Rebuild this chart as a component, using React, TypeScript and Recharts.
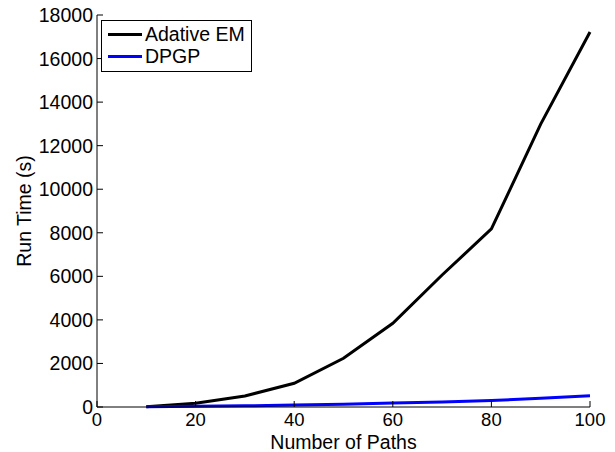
import { LineChart, Line, XAxis, YAxis, Legend } from "recharts";

const paths = [10, 20, 30, 40, 50, 60, 70, 80, 90, 100];
const emTimes = [10, 170, 505, 1090, 2240, 3845, 6060, 8175, 12990, 17220];
const dpgpTimes = [10, 30, 55, 90, 130, 180, 230, 300, 400, 520];
const xTicks = [0, 20, 40, 60, 80, 100];
const yTicks = [0, 2000, 4000, 6000, 8000, 10000, 12000, 14000, 16000, 18000];

const data = paths.map((p, i) => ({ paths: p, em: emTimes[i], dpgp: dpgpTimes[i] }));

const FONT = "'Liberation Sans', Arial, Helvetica, sans-serif";
const TICK_LEN = 6;

function BottomTick(props: any) {
  const { x, y, payload } = props;
  return (
    <g>
      <line x1={x} x2={x} y1={y} y2={y - TICK_LEN} stroke="#000" />
      <text x={x} y={y + 19} textAnchor="middle" fontSize={18.5} fontFamily={FONT} fill="#000">
        {payload.value}
      </text>
    </g>
  );
}

function TopTick(props: any) {
  const { x, y } = props;
  return <line x1={x} x2={x} y1={y} y2={y + TICK_LEN} stroke="#000" />;
}

function LeftTick(props: any) {
  const { x, y, payload } = props;
  return (
    <g>
      <line x1={x} x2={x + TICK_LEN} y1={y} y2={y} stroke="#000" />
      <text x={x - 4} y={y + 7} textAnchor="end" fontSize={19.5} fontFamily={FONT} fill="#000">
        {payload.value}
      </text>
    </g>
  );
}

function RightTick(props: any) {
  const { x, y } = props;
  return <line x1={x} x2={x - TICK_LEN} y1={y} y2={y} stroke="#000" />;
}

function LegendBox() {
  const items = [
    { name: "Adative EM", color: "#000000" },
    { name: "DPGP", color: "#0000ff" },
  ];
  return (
    <div
      style={{
        border: "1px solid #000",
        background: "#fff",
        width: 151,
        height: 52,
        boxSizing: "border-box",
        fontFamily: FONT,
        fontSize: 19.5,
        paddingTop: 2,
      }}
    >
      {items.map((it) => (
        <div key={it.name} style={{ display: "flex", alignItems: "center", height: 22, lineHeight: "22px", whiteSpace: "nowrap" }}>
          <span style={{ display: "inline-block", width: 34, height: 3, background: it.color, marginLeft: 6, marginRight: 3 }} />
          <span>{it.name}</span>
        </div>
      ))}
    </div>
  );
}

export default function App() {
  return (
    <div style={{ position: "absolute", left: 0, top: 0, background: "#fff" }}>
      <LineChart width={615} height={452} data={data} margin={{ top: 15, right: 25, bottom: 0, left: 0 }}>
        <XAxis
          dataKey="paths"
          type="number"
          domain={[0, 100]}
          ticks={xTicks}
          height={45}
          tickSize={0}
          tickMargin={0}
          tickLine={false}
          axisLine={{ stroke: "#000" }}
          tick={<BottomTick />}
          interval={0}
          label={{ value: "Number of Paths", position: "insideBottom", offset: 3, fontSize: 19.5, fontFamily: FONT, fill: "#000" }}
        />
        <XAxis
          xAxisId="top"
          orientation="top"
          dataKey="paths"
          type="number"
          domain={[0, 100]}
          ticks={xTicks}
          height={0}
          tickSize={0}
          tickMargin={0}
          tickLine={false}
          axisLine={{ stroke: "#000" }}
          tick={<TopTick />}
          interval={0}
        />
        <YAxis
          type="number"
          domain={[0, 18000]}
          ticks={yTicks}
          width={97}
          tickSize={0}
          tickMargin={0}
          tickLine={false}
          axisLine={{ stroke: "#000" }}
          tick={<LeftTick />}
          interval={0}
          label={{
            value: "Run Time (s)",
            angle: -90,
            position: "insideLeft",
            offset: 24,
            fontSize: 19.5,
            fontFamily: FONT,
            fill: "#000",
            style: { textAnchor: "middle" },
          }}
        />
        <YAxis
          yAxisId="right"
          orientation="right"
          type="number"
          domain={[0, 18000]}
          ticks={yTicks}
          width={0}
          tickSize={0}
          tickMargin={0}
          tickLine={false}
          axisLine={{ stroke: "#000" }}
          tick={<RightTick />}
          interval={0}
        />
        <Legend
          content={<LegendBox />}
          layout="horizontal"
          verticalAlign="middle"
          align="center"
          wrapperStyle={{ top: 20, left: 101, width: 151 }}
        />
        <Line dataKey="em" name="Adative EM" stroke="#000000" strokeWidth={3} dot={false} isAnimationActive={false} />
        <Line dataKey="dpgp" name="DPGP" stroke="#0000ff" strokeWidth={3} dot={false} isAnimationActive={false} />
      </LineChart>
    </div>
  );
}
